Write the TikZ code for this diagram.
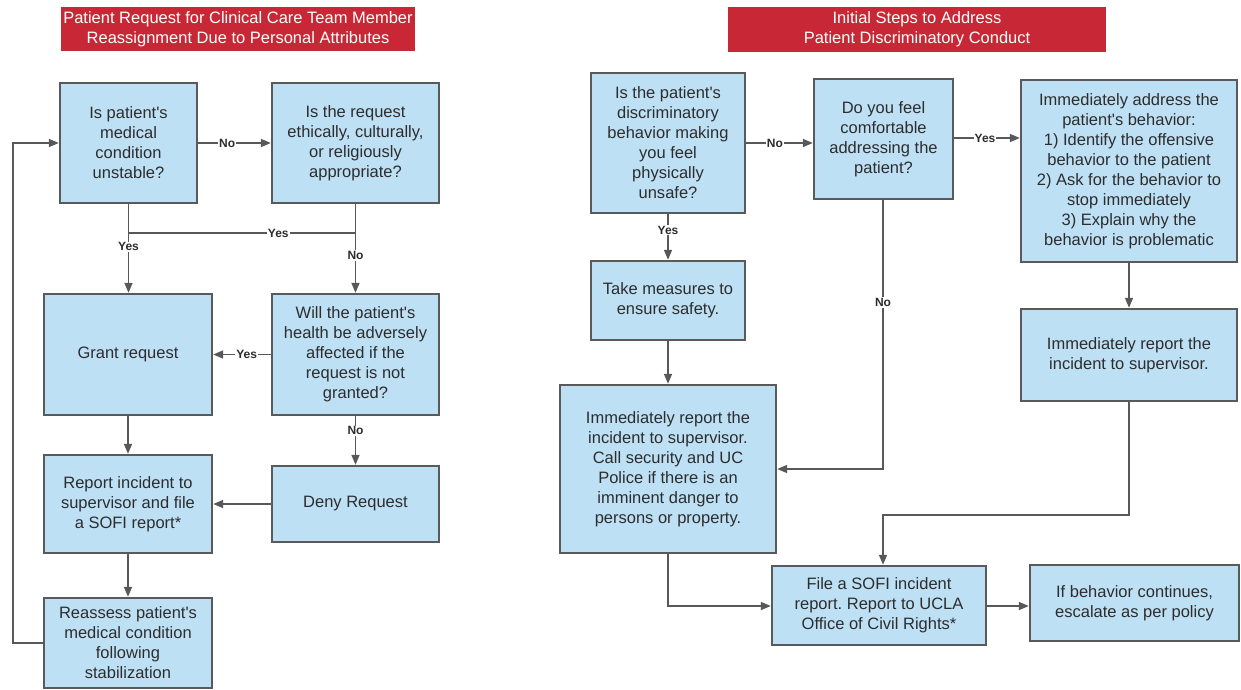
\documentclass[tikz,border=0pt]{standalone}
\usepackage{fontspec}
\setmainfont{Liberation Sans}
\usetikzlibrary{arrows.meta}
\definecolor{boxfill}{RGB}{190,224,245}
\definecolor{boxline}{RGB}{90,90,90}
\definecolor{txtcol}{RGB}{45,45,45}
\definecolor{hdrred}{RGB}{200,40,54}
\definecolor{arrcol}{RGB}{88,88,88}
\newcommand\sq{\textquotesingle}
\tikzset{
  stepbox/.style={draw=boxline, line width=2.4pt, fill=boxfill, align=center, text=txtcol,
    inner sep=0pt, font=\fontsize{16.5}{20}\selectfont},
  hdr/.style={fill=hdrred, text=white, align=center, inner sep=0pt,
    font=\fontsize{16.5}{20}\selectfont},
  conn/.style={draw=arrcol, line width=1.6pt, -{Triangle[length=10pt,width=8pt]}},
  plain/.style={draw=arrcol, line width=1.6pt},
  lbl/.style={fill=white, inner sep=1pt, text=txtcol, font=\fontsize{12}{14}\selectfont\bfseries},
}
\begin{document}
\frenchspacing
\begin{tikzpicture}[x=1pt,y=-1pt]
\useasboundingbox[fill=white] (0,0) rectangle (1241,690);
% ---------- left ----------
\node[hdr, minimum width=354pt, minimum height=44pt] (hL) at (238,29)
  {Patient Request for Clinical Care Team Member\\Reassignment Due to Personal Attributes};
\node[stepbox, minimum width=137pt, minimum height=120pt] (A) at (128.5,143)
  {Is patient\sq s\\medical\\condition\\unstable?};
\node[stepbox, minimum width=167pt, minimum height=120pt] (B) at (355.5,143)
  {Is the request\\ethically, culturally,\\or religiously\\appropriate?};
\node[stepbox, minimum width=168pt, minimum height=121pt] (G) at (128,354.5)
  {Grant request};
\node[stepbox, minimum width=167pt, minimum height=121pt] (W) at (355.5,354.5)
  {Will the patient\sq s\\health be adversely\\affected if the\\request is not\\granted?};
\node[stepbox, minimum width=168pt, minimum height=98pt] (Rp) at (128,504)
  {Report incident to\\supervisor and file\\a SOFI report*};
\node[stepbox, minimum width=167pt, minimum height=76pt] (D) at (355.5,504)
  {Deny Request};
\node[stepbox, minimum width=168pt, minimum height=90pt] (Ra) at (128,643)
  {Reassess patient\sq s\\medical condition\\following\\stabilization};
\coordinate (jB) at (355.5,233);
\coordinate (jA) at (128.5,233);
\coordinate (loop) at (13,643);
\draw[conn] (A.east |- 0,143) -- node[lbl, pos=0.4] {No} (B.west |- 0,143);
\draw[conn] (A.south) -- node[lbl, pos=0.48] {Yes} (A.south |- G.north);
\draw[plain] (jB) -- node[lbl, pos=0.34] {Yes} (jA);
\draw[conn] (B.south) -- node[lbl, pos=0.58] {No} (W.north);
\draw[conn] (W.west) -- node[lbl, pos=0.42] {Yes} (G.east);
\draw[conn] (W.south) -- node[lbl, pos=0.3] {No} (D.north);
\draw[conn] (G.south) -- (Rp.north);
\draw[conn] (D.west) -- (Rp.east);
\draw[conn] (Rp.south) -- (Ra.north);
\draw[conn] (Ra.west) -- (loop) |- (A.west);
% ---------- right ----------
\node[hdr, minimum width=378pt, minimum height=45pt] (hR) at (917,29.5)
  {Initial Steps to Address\\Patient Discriminatory Conduct};
\node[stepbox, minimum width=154pt, minimum height=140pt] (P) at (668,143)
  {Is the patient\sq s\\discriminatory\\behavior making\\you feel\\physically\\unsafe?};
\node[stepbox, minimum width=139pt, minimum height=120pt] (Q) at (883.5,139)
  {Do you feel\\comfortable\\addressing the\\patient?};
\node[stepbox, minimum width=216pt, minimum height=182pt] (R) at (1129,171)
  {Immediately address the\\patient\sq s behavior:\\1) Identify the offensive\\behavior to the patient\\2) Ask for the behavior to\\stop immediately\\3) Explain why the\\behavior is problematic};
\node[stepbox, minimum width=154pt, minimum height=79pt] (Tk) at (668,300.5)
  {Take measures to\\ensure safety.};
\node[stepbox, minimum width=216pt, minimum height=168pt] (S) at (668,469)
  {Immediately report the\\incident to supervisor.\\Call security and UC\\Police if there is an\\imminent danger to\\persons or property.};
\node[stepbox, minimum width=216pt, minimum height=92pt] (T) at (1129,355)
  {Immediately report the\\incident to supervisor.};
\node[stepbox, minimum width=214pt, minimum height=79pt] (U) at (879,605.5)
  {File a SOFI incident\\report. Report to UCLA\\Office of Civil Rights*};
\node[stepbox, minimum width=209pt, minimum height=76pt] (V) at (1134.5,603)
  {If behavior continues,\\escalate as per policy};
\coordinate (jT) at (883,515);
\coordinate (jS) at (668,606);
\draw[conn] (P.east |- 0,143) -- node[lbl, pos=0.43] {No} (Q.west |- 0,143);
\draw[conn] (Q.east |- 0,138) -- node[lbl, pos=0.47] {Yes} (R.west |- 0,138);
\draw[conn] (P.south) -- node[lbl, pos=0.35] {Yes} (Tk.north);
\draw[conn] (Tk.south) -- (S.north);
\draw[conn] (Q.south -| 883,0) |- node[lbl, pos=0.19] {No} (S.east);
\draw[conn] (R.south) -- (T.north);
\draw[conn] (T.south) |- (jT) -- (jT |- U.north);
\draw[conn] (S.south) -- (jS) -- (U.west |- jS);
\draw[conn] (U.east |- 0,606) -- (V.west |- 0,606);
\end{tikzpicture}
\end{document}
